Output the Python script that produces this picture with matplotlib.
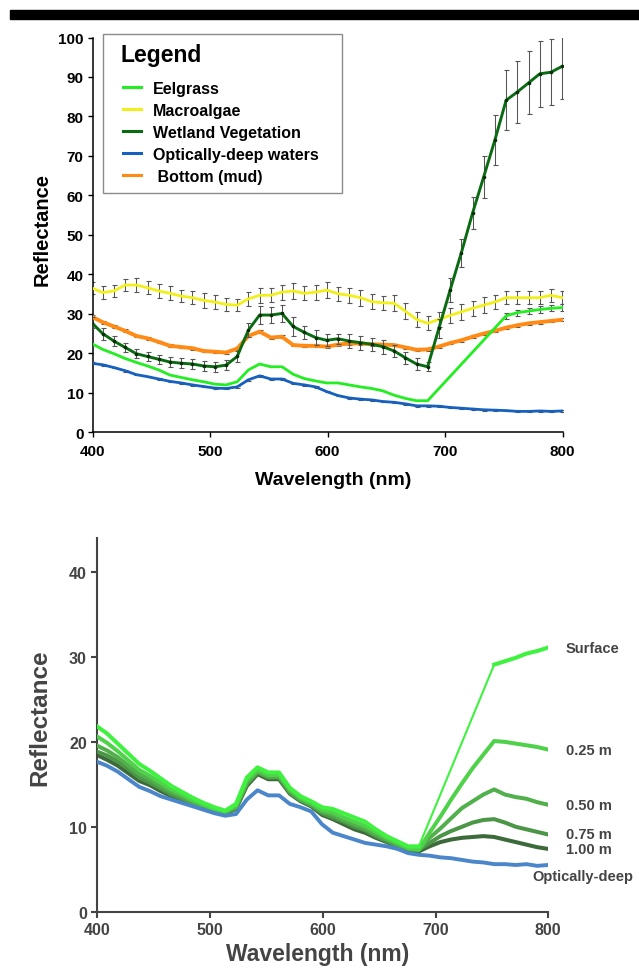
import numpy as np
import matplotlib
matplotlib.use("Agg")
import matplotlib.pyplot as plt
from matplotlib.patches import Rectangle
from matplotlib.lines import Line2D

plt.rcParams['font.family'] = ['Liberation Sans', 'DejaVu Sans']
plt.rcParams['font.weight'] = 'bold'

# ---------------- data ----------------
wavelength = [399.0, 408.5, 418.1, 427.6, 437.2, 446.7, 456.2, 465.8, 475.3, 484.9,
              494.4, 503.9, 513.5, 523.0, 532.6, 542.1, 551.6, 561.2, 570.7, 580.3,
              589.8, 599.3, 608.9, 618.4, 628.0, 637.5, 647.0, 656.6, 666.1, 675.7,
              685.2, 694.7, 704.3, 713.8, 723.4, 732.9, 742.4, 752.0, 761.5, 771.1,
              780.6, 790.1, 799.7]

eelgrass = [22.5, 21.0, 19.9, 18.7, 17.7, 16.8, 15.8, 14.5, 13.9, 13.3,
            12.8, 12.2, 12.0, 12.8, 15.8, 17.3, 16.6, 16.6, 14.7, 13.6,
            13.0, 12.5, 12.5, 12.0, 11.5, 11.1, 10.5, 9.4, 8.6, 8.0,
            8.0, None, None, None, None, None, None, 29.5, 30.3, 30.7,
            31.1, 31.4, 31.6]
eelgrass_err = [0, 0, 0, 0, 0, 0, 0, 0, 0, 0,
                0, 0, 0, 0, 0, 0, 0, 0, 0, 0,
                0, 0, 0, 0, 0, 0, 0, 0, 0, 0,
                0, 0, 0, 0, 0, 0, 0, 0.8, 0.8, 0.8,
                0.8, 0.8, 0.8]

macroalgae = [36.6, 35.4, 35.8, 37.3, 37.3, 36.6, 35.8, 35.2, 34.5, 34.1,
              33.4, 33.0, 32.4, 32.2, 33.8, 34.7, 34.7, 35.5, 35.8, 35.2,
              35.5, 36.0, 35.1, 34.7, 34.1, 33.1, 32.8, 32.7, 30.7, 28.6,
              27.6, 28.6, 29.6, 30.5, 31.4, 32.2, 33.0, 34.1, 34.1, 34.1,
              34.1, 34.7, 34.1]
macroalgae_err = [1.5, 1.6, 1.5, 1.6, 1.7, 1.6, 1.7, 1.8, 1.6, 1.7,
                  1.8, 1.7, 1.6, 1.6, 1.8, 1.9, 1.8, 1.9, 2.0, 1.8,
                  1.9, 2.0, 1.8, 1.9, 2.0, 1.9, 1.8, 2.0, 2.0, 1.9,
                  1.8, 1.9, 2.0, 2.0, 1.9, 2.0, 1.8, 1.7, 1.7, 1.6,
                  1.6, 1.7, 1.6]

wetland = [27.8, 25.0, 23.1, 21.5, 19.9, 19.2, 18.5, 17.8, 17.5, 17.3,
           16.8, 16.6, 17.0, 19.2, 25.9, 29.7, 29.7, 30.1, 26.8, 25.3,
           24.0, 23.3, 23.7, 23.1, 22.7, 22.3, 21.7, 20.6, 18.9, 17.3,
           16.6, 26.3, 36.0, 45.4, 55.5, 64.7, 74.0, 84.1, 86.2, 88.5,
           90.8, 91.2, 92.7]
wetland_err = [1.3, 1.5, 1.3, 1.2, 1.2, 1.2, 1.2, 1.2, 1.2, 1.2,
               1.2, 1.2, 1.3, 1.5, 1.8, 2.3, 2.1, 2.2, 2.3, 1.7,
               1.8, 1.5, 1.3, 1.7, 1.8, 1.7, 1.8, 1.6, 1.5, 1.5,
               1.1, 2.5, 3.0, 3.5, 4.0, 5.4, 6.4, 7.6, 7.8, 8.0,
               8.3, 8.4, 8.3]

deep_water = [17.5, 17.1, 16.4, 15.6, 14.6, 14.1, 13.5, 12.9, 12.5, 12.0,
              11.6, 11.2, 11.1, 11.5, 13.3, 14.3, 13.5, 13.5, 12.4, 12.0,
              11.5, 10.3, 9.3, 8.7, 8.4, 8.2, 7.8, 7.6, 7.2, 6.7,
              6.7, 6.6, 6.3, 6.1, 5.9, 5.7, 5.6, 5.5, 5.3, 5.3,
              5.4, 5.3, 5.4]
deep_water_err = [0.2] * 43

mud = [29.3, 27.9, 26.8, 25.7, 24.4, 23.8, 22.9, 21.9, 21.6, 21.3,
       20.6, 20.4, 20.2, 21.2, 24.4, 25.5, 24.0, 24.2, 22.1, 21.9,
       21.9, 21.7, 22.2, 22.5, 22.5, 22.3, 22.2, 22.1, 21.5, 20.9,
       21.0, 21.7, 22.6, 23.3, 24.2, 25.0, 25.7, 26.5, 27.1, 27.6,
       27.9, 28.2, 28.5]
mud_err = [0.35] * 43

# bottom panel: eelgrass at depth
b_deep = [17.7, 17.2, 16.5, 15.6, 14.7, 14.2, 13.6, 13.2, 12.8, 12.4,
          12.0, 11.6, 11.3, 11.5, 13.2, 14.3, 13.7, 13.7, 12.7, 12.3,
          11.8, 10.3, 9.3, 8.9, 8.5, 8.1, 7.9, 7.7, 7.4, 6.9,
          6.7, 6.6, 6.4, 6.3, 6.1, 5.9, 5.8, 5.6, 5.6, 5.5,
          5.6, 5.4, 5.5]
b_surface = [21.9, 21.0, 19.8, 18.6, 17.4, 16.6, 15.7, 14.8, 14.1, 13.4,
             12.8, 12.3, 11.9, 12.7, 15.8, 17.0, 16.4, 16.4, 14.6, 13.6,
             13.0, 12.3, 12.1, 11.6, 11.1, 10.6, 9.7, 8.9, 8.3, 7.7,
             7.7, None, None, None, None, None, None, 29.1, 29.5, 29.9,
             30.4, 30.7, 31.1]
b_025 = [20.7, 19.9, 18.9, 17.8, 16.7, 16.0, 15.2, 14.4, 13.8, 13.1,
         12.6, 12.1, 11.8, 12.5, 15.5, 16.7, 16.1, 16.1, 14.4, 13.4,
         12.8, 12.0, 11.7, 11.1, 10.6, 10.1, 9.4, 8.7, 8.1, 7.5,
         7.3, 9.3, 11.2, 13.2, 15.1, 16.9, 18.5, 20.1, 20.0, 19.8,
         19.6, 19.4, 19.1]
b_050 = [19.6, 19.0, 18.2, 17.2, 16.2, 15.6, 14.8, 14.1, 13.5, 12.9,
         12.4, 12.0, 11.7, 12.3, 15.2, 16.5, 15.9, 15.9, 14.2, 13.2,
         12.6, 11.8, 11.4, 10.8, 10.3, 9.8, 9.1, 8.5, 7.9, 7.4,
         7.3, 8.7, 9.8, 11.0, 12.2, 13.0, 13.8, 14.4, 13.8, 13.5,
         13.3, 12.9, 12.6]
b_075 = [18.9, 18.4, 17.7, 16.8, 15.8, 15.2, 14.5, 13.8, 13.3, 12.8,
         12.3, 11.9, 11.6, 12.2, 15.0, 16.4, 15.8, 15.8, 14.0, 13.1,
         12.5, 11.6, 11.1, 10.6, 10.0, 9.6, 8.9, 8.3, 7.8, 7.3,
         7.3, 8.1, 8.9, 9.5, 10.0, 10.5, 10.8, 10.9, 10.5, 10.0,
         9.7, 9.4, 9.1]
b_100 = [18.5, 17.9, 17.2, 16.3, 15.4, 14.9, 14.2, 13.6, 13.1, 12.6,
         12.2, 11.8, 11.5, 12.1, 14.8, 16.2, 15.6, 15.6, 13.9, 13.0,
         12.4, 11.4, 10.9, 10.3, 9.7, 9.3, 8.7, 8.2, 7.7, 7.2,
         7.1, 7.7, 8.2, 8.5, 8.7, 8.8, 8.9, 8.8, 8.5, 8.2,
         7.9, 7.6, 7.4]

legend_title = 'Legend'
legend_labels = ['Eelgrass', 'Macroalgae', 'Wetland Vegetation',
                 'Optically-deep waters', ' Bottom (mud)']
depth_labels = ['Surface', '0.25 m', '0.50 m', '0.75 m', '1.00 m', 'Optically-deep']
x_ticks = [400, 500, 600, 700, 800]
top_yticks = [0, 10, 20, 30, 40, 50, 60, 70, 80, 90, 100]
bot_yticks = [0, 10, 20, 30, 40]

# ---------------- figure ----------------
W, H = 639, 970
fig = plt.figure(figsize=(W / 100, H / 100), dpi=100)
fig.patches.append(Rectangle((10 / W, 1 - 19.5 / H), 1 - 10 / W, 8.5 / H,
                             transform=fig.transFigure, color='black', zorder=5))

def valid(x, y):
    xs = [a for a, b in zip(x, y) if b is not None]
    ys = [b for b in y if b is not None]
    return np.array(xs), np.array(ys)

wl = np.array(wavelength)

# ---------- top panel ----------
AXL, AXB = 92.7, 433.3
AXW = 562.5 - AXL
AXH = AXB - 38.5
ax = fig.add_axes([AXL / W, 1 - AXB / H, AXW / W, AXH / H])
c_eel, c_mac, c_wet, c_deep, c_mud = '#22ee22', '#f2f01a', '#0b6b12', '#1660bf', '#ff8a14'
ecol = '#555555'

def eb(y, e, color, lw, z, marker=None):
    xs, ys = valid(wl, y)
    es = np.array([ee for ee, yy in zip(e, y) if yy is not None])
    m = es > 0
    ax.errorbar(xs[m], ys[m], yerr=es[m], fmt='none', ecolor=ecol, elinewidth=0.75,
                capsize=1.8, capthick=0.8, zorder=z - 0.5)
    ax.plot(xs, ys, color=color, lw=lw, zorder=z, solid_joinstyle='round',
            marker=marker, ms=1.6, mfc='#083008', mec='#083008')

eb(macroalgae, macroalgae_err, c_mac, 2.0, 3)
eb(mud, mud_err, c_mud, 2.8, 4)
eb(wetland, wetland_err, c_wet, 2.1, 5, marker='o')
eb(eelgrass, eelgrass_err, c_eel, 2.0, 4.5)
eb(deep_water, deep_water_err, c_deep, 2.0, 4.2)

ax.set_xlim(400, 800)
ax.set_ylim(0, 100)
ax.set_xticks(x_ticks)
ax.set_yticks(top_yticks)
for s in ['top', 'right']:
    ax.spines[s].set_visible(False)
for s in ['left', 'bottom']:
    ax.spines[s].set_linewidth(1.1)
ax.tick_params(axis='both', direction='out', length=3.5, width=1.0, labelsize=11, pad=3)
ax.tick_params(axis='x', pad=5)
for t in ax.get_xticklabels() + ax.get_yticklabels():
    t.set_fontweight('bold')
fig.text(333 / W, 1 - 481 / H, 'Wavelength (nm)', ha='center', va='center',
         fontsize=14, fontweight='bold')
fig.text(42 / W, 1 - 229 / H, 'Reflectance', ha='center', va='center',
         rotation=90, fontsize=14.5, fontweight='bold')

# legend: frame + title drawn in pixel positions, entries by ax.legend
def ax_frac(px, py):
    return (px - AXL) / AXW, (AXB - py) / AXH

fx0, fy0 = ax_frac(103.3, 194)
fx1, fy1 = ax_frac(341.7, 35)
ax.add_patch(Rectangle((fx0, fy0), fx1 - fx0, fy1 - fy0, transform=ax.transAxes,
                       facecolor='white', edgecolor='#8a8a8a', lw=1.0, zorder=8,
                       clip_on=False))
tx, ty = ax_frac(120, 61.5)
ax.text(tx, ty, legend_title, transform=ax.transAxes, ha='left', va='baseline',
        fontsize=16.5, fontweight='bold', zorder=9)
handles = [Line2D([], [], color=c, lw=2.2) for c in [c_eel, c_mac, c_wet, c_deep, c_mud]]
lx, ly = ax_frac(123, 81.5)
leg = ax.legend(handles, legend_labels, loc='upper left', bbox_to_anchor=(lx, ly),
                borderaxespad=0, borderpad=0, frameon=False,
                prop={'size': 11.5, 'weight': 'bold'},
                handlelength=1.1, handletextpad=0.8, labelspacing=0.44)
leg.set_zorder(10)

# ---------- bottom panel ----------
gray = '#444444'
bx = fig.add_axes([97.3 / W, 1 - 912.7 / H, (548.3 - 97.3) / W, (912.7 - 539.1) / H])
cols = {'s': '#3ff23f', '025': '#4fd24a', '050': '#52b04c', '075': '#4c9647', '100': '#3d6a3a'}
lwb = 2.9
bx.plot(wl, b_100, color=cols['100'], lw=lwb, zorder=2, solid_joinstyle='round')
bx.plot(wl, b_075, color=cols['075'], lw=lwb, zorder=3, solid_joinstyle='round')
bx.plot(wl, b_050, color=cols['050'], lw=lwb, zorder=4, solid_joinstyle='round')
bx.plot(wl, b_025, color=cols['025'], lw=lwb, zorder=5, solid_joinstyle='round')
xs_s, ys_s = valid(wl, b_surface)
gap = int(np.argmax(np.diff(xs_s)))
bx.plot(xs_s[:gap + 1], ys_s[:gap + 1], color=cols['s'], lw=lwb, zorder=6, solid_joinstyle='round')
bx.plot(xs_s[gap:gap + 2], ys_s[gap:gap + 2], color=cols['s'], lw=1.5, zorder=6)
bx.plot(xs_s[gap + 1:], ys_s[gap + 1:], color=cols['s'], lw=lwb, zorder=6, solid_joinstyle='round')
bx.plot(wl, b_deep, color='#4a86c9', lw=2.8, zorder=7, solid_joinstyle='round')

bx.set_xlim(400, 800)
bx.set_ylim(0, 44)
bx.set_xticks(x_ticks)
bx.set_yticks(bot_yticks)
for s in ['top', 'right']:
    bx.spines[s].set_visible(False)
for s in ['left', 'bottom']:
    bx.spines[s].set_linewidth(1.5)
    bx.spines[s].set_color(gray)
bx.tick_params(axis='both', direction='out', length=4, width=1.5, colors=gray,
               labelsize=11.5, labelcolor=gray)
for t in bx.get_xticklabels() + bx.get_yticklabels():
    t.set_fontweight('bold')

ends = [b_surface[-1], b_025[-1], b_050[-1], b_075[-1], b_100[-1]]
for lab, yv in zip(depth_labels[:5], ends):
    bx.text(815.5, yv, lab, ha='left', va='center', fontsize=10.5,
            fontweight='bold', color=gray, clip_on=False)
bx.text(786, b_deep[-1] - 1.35, depth_labels[5], ha='left', va='center', fontsize=10.5,
        fontweight='bold', color=gray, clip_on=False)

fig.text(318 / W, 1 - 955 / H, 'Wavelength (nm)', ha='center', va='center',
         fontsize=16.5, fontweight='bold', color=gray)
fig.text(40 / W, 1 - 718 / H, 'Reflectance', ha='center', va='center',
         rotation=90, fontsize=17.5, fontweight='bold', color=gray)

fig.savefig('out.png', dpi=100)
